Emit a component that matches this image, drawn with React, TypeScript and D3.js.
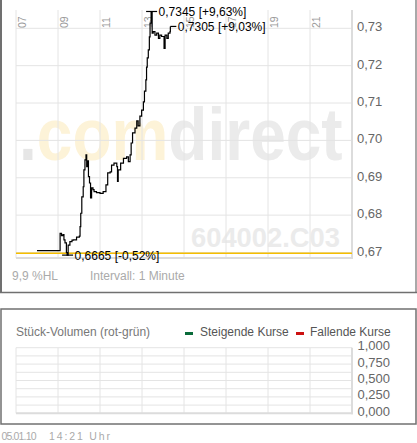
import { useEffect, useRef } from "react";
import * as d3 from "d3";

const width = 417;
const height = 443;
const font = "'Liberation Sans', Arial, sans-serif";

// Kursdaten (Minutenchart, 05.01.10)
const priceTimes = [
  "08:00", "09:04", "09:06", "09:10", "09:14", "09:17", "09:20", "09:24",
  "09:26", "09:29", "09:34", "09:40", "09:44", "09:53", "10:01", "10:03",
  "10:05", "10:08", "10:12", "10:14", "10:17", "10:20", "10:22", "10:24",
  "10:27", "10:30", "10:33", "10:36", "10:40", "10:43", "10:50", "11:00",
  "11:09", "11:17", "11:22", "11:29", "11:33", "11:40", "11:48", "11:50",
  "11:52", "11:59", "12:07", "12:16", "12:21", "12:26", "12:29", "12:33",
  "12:40", "12:45", "12:49", "12:54", "12:59", "13:04", "13:07", "13:11",
  "13:13", "13:15", "13:18", "13:21", "13:23", "13:26", "13:29", "13:32",
  "13:37", "13:42", "13:47", "13:51", "13:56", "14:03", "14:06", "14:11",
  "14:15", "14:20", "14:21",
];
const priceValues = [
  0.6705, 0.6705, 0.6751, 0.6745, 0.6748, 0.6734, 0.6726, 0.67,
  0.6693, 0.672, 0.6729, 0.6733, 0.6734, 0.6741, 0.6744, 0.6769,
  0.6805, 0.6849, 0.6876, 0.6921, 0.6948, 0.6961, 0.693, 0.6945,
  0.6903, 0.6886, 0.6846, 0.6873, 0.6868, 0.6863, 0.686, 0.6858,
  0.6863, 0.6881, 0.6913, 0.6916, 0.6934, 0.6939, 0.693, 0.689,
  0.6921, 0.6939, 0.6952, 0.6956, 0.6943, 0.6961, 0.6993, 0.702,
  0.7033, 0.7052, 0.7039, 0.7065, 0.7081, 0.7103, 0.7132, 0.7162,
  0.7196, 0.7221, 0.7242, 0.7277, 0.7314, 0.7345, 0.7287, 0.7291,
  0.7282, 0.7287, 0.7273, 0.7282, 0.7278, 0.7246, 0.7282, 0.7273,
  0.7287, 0.7291, 0.7305,
];
const prevClose = 0.67;

const hourTicks = [7, 9, 11, 13, 15, 17, 19, 21];
const priceTicks = [0.73, 0.72, 0.71, 0.7, 0.69, 0.68, 0.67];
const volumeTicks = [1, 0.75, 0.5, 0.25, 0];
const volumeGrid = [1, 0.875, 0.75, 0.625, 0.5, 0.375, 0.25, 0.125, 0];

const markerLabels = ["0,7345 [+9,63%]", "0,7305 [+9,03%]", "0,6665 [-0,52%]"];

const toMinutes = (s: string) => {
  const [h, m] = s.split(":").map(Number);
  return h * 60 + m;
};

export default function App() {
  const svgRef = useRef<SVGSVGElement | null>(null);

  useEffect(() => {
    if (!svgRef.current) return;
    const svg = d3.select(svgRef.current);
    svg.selectAll("*").remove();

    const data = priceTimes.map((t, i) => ({ t: toMinutes(t), v: priceValues[i] }));

    const x = d3.scaleLinear().domain([7 * 60, 23 * 60]).range([16, 352]);
    const y = d3.scaleLinear().domain([0.67, 0.73]).range([252.5, 28.3]);
    const yVol = d3.scaleLinear().domain([0, 1]).range([413.3, 347.7]);
    const fmt = (d: number, p: number) => d3.format(`.${p}f`)(d).replace(".", ",");

    const top = svg.append("g");

    // Rahmen oben
    top.append("line").attr("x1", 1).attr("x2", 1).attr("y1", 0).attr("y2", 293)
      .attr("stroke", "#707070").attr("stroke-width", 2);
    top.append("line").attr("x1", 416).attr("x2", 416).attr("y1", 0).attr("y2", 293)
      .attr("stroke", "#707070").attr("stroke-width", 1.2);
    top.append("line").attr("x1", 0).attr("x2", 417).attr("y1", 292.5).attr("y2", 292.5)
      .attr("stroke", "#707070").attr("stroke-width", 1.5);

    // Wasserzeichen
    const wm = top.append("text")
      .attr("transform", "translate(19, 160) scale(1, 1.15)")
      .style("font-family", font).style("font-weight", "700").style("font-size", "64px");
    wm.append("tspan").attr("fill", "#e6e6e6").text(".");
    wm.append("tspan").attr("fill", "#fdf3d8").text("com");
    wm.append("tspan").attr("fill", "#ebebeb").text("direct");

    top.append("text").attr("x", 191).attr("y", 247)
      .attr("textLength", 149).attr("lengthAdjust", "spacingAndGlyphs")
      .attr("fill", "#ebebeb")
      .style("font-family", font).style("font-weight", "700").style("font-size", "28px")
      .text("604002.C03");

    // Gitter
    top.selectAll(".vgrid").data(hourTicks).join("line")
      .attr("x1", (d) => x(d * 60)).attr("x2", (d) => x(d * 60))
      .attr("y1", 10).attr("y2", 258)
      .attr("stroke", "#e4e4e4").attr("stroke-width", 1);
    top.selectAll(".hgrid").data(priceTicks).join("line")
      .attr("x1", 16).attr("x2", 352)
      .attr("y1", (d) => y(d)).attr("y2", (d) => y(d))
      .attr("stroke", "#e4e4e4").attr("stroke-width", 1);
    top.append("line").attr("x1", 352).attr("x2", 352).attr("y1", 10).attr("y2", 259)
      .attr("stroke", "#dcdcdc").attr("stroke-width", 2);
    top.append("line").attr("x1", 16).attr("x2", 353).attr("y1", 258).attr("y2", 258)
      .attr("stroke", "#dcdcdc").attr("stroke-width", 2);

    // Vortagesschluss
    top.append("line").attr("x1", 16).attr("x2", 352)
      .attr("y1", y(prevClose) + 0.8).attr("y2", y(prevClose) + 0.8)
      .attr("stroke", "#f5be00").attr("stroke-width", 1.6);

    // Stunden-Beschriftung
    top.selectAll(".hlab").data(hourTicks).join("text")
      .attr("transform", (d) => `translate(${x(d * 60) + 9.5}, 28) rotate(-90)`)
      .attr("fill", "#999")
      .style("font-family", font).style("font-size", "10.5px")
      .text((d) => d3.format("02d")(d));

    // Kurs-Achse
    top.selectAll(".plab").data(priceTicks).join("text")
      .attr("x", 357).attr("y", (d) => y(d) + 3)
      .attr("fill", "#666")
      .style("font-family", font).style("font-size", "13px")
      .text((d) => fmt(d, 2));

    // Kurslinie
    const line = d3.line<{ t: number; v: number }>()
      .x((d) => x(d.t)).y((d) => y(d.v))
      .curve(d3.curveStepAfter);
    top.append("path").datum(data)
      .attr("d", line)
      .attr("fill", "none").attr("stroke", "#000").attr("stroke-width", 1.2);

    // Hoch / Letzter / Tief
    const hi = data[d3.maxIndex(data, (d) => d.v)];
    const last = data[data.length - 1];
    const lo = data[d3.minIndex(data, (d) => d.v)];
    [hi, last, lo].forEach((d, i) => {
      const px = x(d.t);
      const py = y(d.v);
      top.append("line")
        .attr("x1", i === 1 ? px : px - 5).attr("x2", px + 6)
        .attr("y1", py).attr("y2", py)
        .attr("stroke", "#000").attr("stroke-width", 1.2);
      top.append("text")
        .attr("x", px + 7.5).attr("y", py + 4.5)
        .attr("fill", "#000")
        .style("font-family", font).style("font-size", "12px")
        .text(markerLabels[i]);
    });

    top.append("text").attr("x", 12).attr("y", 280).attr("fill", "#aaa")
      .style("font-family", font).style("font-size", "12px").text("9,9 %HL");
    top.append("text").attr("x", 90).attr("y", 280).attr("fill", "#aaa")
      .style("font-family", font).style("font-size", "12px").text("Intervall: 1 Minute");

    // Volumen-Panel
    const bot = svg.append("g");
    bot.append("rect").attr("x", 1).attr("y", 309).attr("width", 415).attr("height", 115)
      .attr("fill", "none").attr("stroke", "#707070").attr("stroke-width", 1.5);

    bot.append("text").attr("x", 16).attr("y", 336).attr("fill", "#777")
      .style("font-family", font).style("font-size", "12px").text("Stück-Volumen (rot-grün)");
    bot.append("rect").attr("x", 185).attr("y", 332).attr("width", 8).attr("height", 3)
      .attr("fill", "#0a6b3a");
    bot.append("text").attr("x", 200).attr("y", 336).attr("fill", "#555")
      .style("font-family", font).style("font-size", "12px").text("Steigende Kurse");
    bot.append("rect").attr("x", 296).attr("y", 332).attr("width", 8).attr("height", 3)
      .attr("fill", "#cc1111");
    bot.append("text").attr("x", 310).attr("y", 336).attr("fill", "#555")
      .style("font-family", font).style("font-size", "12px").text("Fallende Kurse");

    bot.selectAll(".vg").data(hourTicks).join("line")
      .attr("x1", (d) => x(d * 60)).attr("x2", (d) => x(d * 60))
      .attr("y1", yVol(1)).attr("y2", yVol(0))
      .attr("stroke", "#e4e4e4");
    bot.selectAll(".hg").data(volumeGrid).join("line")
      .attr("x1", 16).attr("x2", 352)
      .attr("y1", (d) => yVol(d)).attr("y2", (d) => yVol(d))
      .attr("stroke", "#e4e4e4");
    bot.append("line").attr("x1", 352).attr("x2", 352).attr("y1", yVol(1)).attr("y2", yVol(0) + 1)
      .attr("stroke", "#dcdcdc").attr("stroke-width", 2);
    bot.append("line").attr("x1", 16).attr("x2", 353).attr("y1", yVol(0)).attr("y2", yVol(0))
      .attr("stroke", "#dcdcdc").attr("stroke-width", 2);

    bot.selectAll(".vl").data(volumeTicks).join("text")
      .attr("x", 357.5).attr("y", (d) => yVol(d) + 2.5)
      .attr("fill", "#666")
      .style("font-family", font).style("font-size", "13px")
      .text((d) => fmt(d, 3));

    // Fußzeile
    svg.append("text").attr("x", 1.5).attr("y", 440).attr("fill", "#aaa")
      .attr("textLength", 35)
      .style("font-family", font).style("font-size", "10.5px").text("05.01.10");
    svg.append("text").attr("x", 49).attr("y", 440).attr("fill", "#aaa")
      .attr("textLength", 61)
      .style("font-family", font).style("font-size", "10.5px").text("14:21 Uhr");
  }, []);

  return (
    <div>
      <style>{`body{margin:0}`}</style>
      <svg ref={svgRef} width={width} height={height} viewBox={`0 0 ${width} ${height}`}
        style={{ display: "block", background: "#fff" }} />
    </div>
  );
}
